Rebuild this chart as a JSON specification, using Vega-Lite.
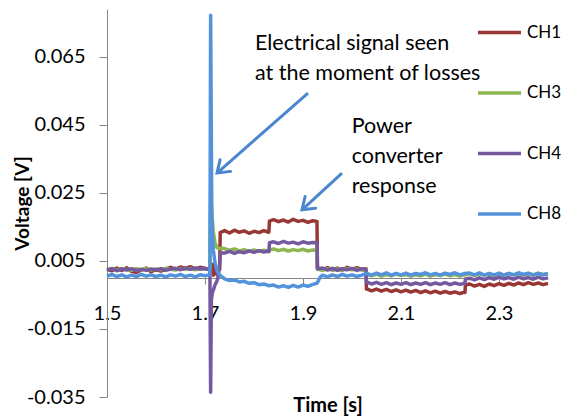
{
  "$schema": "https://vega.github.io/schema/vega-lite/v6.json",
  "autosize": {"type": "none"},
  "padding": {"left": 107, "top": 9, "right": 14, "bottom": 19},
  "width": 441,
  "height": 388,
  "background": "white",
  "config": {
    "view": {"stroke": null},
    "font": "Lato",
    "legend": {
      "orient": "none", "legendX": 369, "legendY": 0, "padding": 0,
      "symbolType": "stroke", "symbolSize": 1849, "symbolStrokeWidth": 3.5,
      "labelFont": "Lato", "labelFontSize": 17, "labelColor": "#000000",
      "rowPadding": 28.5, "labelOffset": 4, "labelLimit": 60
    }
  },
  "layer": [
    {
      "data": {"values": [
        {"x":1.50,"CH1":0.0026,"CH3":0.0024,"CH4":0.0022,"CH8":0.0005},
        {"x":1.51,"CH1":0.0021,"CH3":0.0028,"CH4":0.0027,"CH8":0.0010},
        {"x":1.52,"CH1":0.0029,"CH3":0.0023,"CH4":0.0021,"CH8":0.0004},
        {"x":1.53,"CH1":0.0022,"CH3":0.0027,"CH4":0.0026,"CH8":0.0009},
        {"x":1.54,"CH1":0.0030,"CH3":0.0025,"CH4":0.0023,"CH8":0.0003},
        {"x":1.55,"CH1":0.0019,"CH3":0.0022,"CH4":0.0027,"CH8":0.0008},
        {"x":1.56,"CH1":0.0016,"CH3":0.0027,"CH4":0.0021,"CH8":0.0004},
        {"x":1.57,"CH1":0.0023,"CH3":0.0024,"CH4":0.0025,"CH8":0.0010},
        {"x":1.58,"CH1":0.0029,"CH3":0.0028,"CH4":0.0022,"CH8":0.0005},
        {"x":1.59,"CH1":0.0018,"CH3":0.0023,"CH4":0.0026,"CH8":0.0009},
        {"x":1.60,"CH1":0.0024,"CH3":0.0026,"CH4":0.0023,"CH8":0.0004},
        {"x":1.61,"CH1":0.0020,"CH3":0.0024,"CH4":0.0027,"CH8":0.0008},
        {"x":1.62,"CH1":0.0026,"CH3":0.0028,"CH4":0.0022,"CH8":0.0003},
        {"x":1.63,"CH1":0.0031,"CH3":0.0025,"CH4":0.0026,"CH8":0.0009},
        {"x":1.64,"CH1":0.0025,"CH3":0.0023,"CH4":0.0028,"CH8":0.0005},
        {"x":1.65,"CH1":0.0032,"CH3":0.0027,"CH4":0.0024,"CH8":0.0010},
        {"x":1.66,"CH1":0.0027,"CH3":0.0025,"CH4":0.0029,"CH8":0.0004},
        {"x":1.67,"CH1":0.0033,"CH3":0.0028,"CH4":0.0025,"CH8":0.0008},
        {"x":1.68,"CH1":0.0026,"CH3":0.0024,"CH4":0.0029,"CH8":0.0003},
        {"x":1.69,"CH1":0.0031,"CH3":0.0027,"CH4":0.0026,"CH8":0.0009},
        {"x":1.70,"CH1":0.0028,"CH3":0.0025,"CH4":0.0028,"CH8":0.0006},
        {"x":1.705,"CH1":0.0026,"CH3":0.0026,"CH4":0.0025,"CH8":0.0008},
        {"x":1.710,"CH1":0.0030,"CH3":0.0027,"CH4":0.0024,"CH8":0.0009},
        {"x":1.7115,"CH1":0.0036,"CH3":0.0250,"CH4":-0.0336,"CH8":0.0772},
        {"x":1.7130,"CH1":0.0039,"CH3":0.0215,"CH4":-0.0065,"CH8":null},
        {"x":1.7140,"CH1":null,"CH3":0.0190,"CH4":null,"CH8":0.0160},
        {"x":1.7150,"CH1":0.0040,"CH3":null,"CH4":-0.0042,"CH8":0.0125},
        {"x":1.7170,"CH1":0.0008,"CH3":0.0135,"CH4":-0.0036,"CH8":0.0082},
        {"x":1.7205,"CH1":0.0035,"CH3":0.0102,"CH4":-0.0020,"CH8":0.0044},
        {"x":1.7240,"CH1":0.0010,"CH3":0.0090,"CH4":-0.0011,"CH8":0.0023},
        {"x":1.7270,"CH1":0.0022,"CH3":0.0087,"CH4":0.0004,"CH8":0.0014},
        {"x":1.7300,"CH1":0.0025,"CH3":0.0086,"CH4":0.0042,"CH8":0.0009},
        {"x":1.7310,"CH1":0.0133,"CH3":0.0087,"CH4":0.0073,"CH8":0.0007},
        {"x":1.74,"CH1":0.0139,"CH3":0.0086,"CH4":0.0073,"CH8":-0.0003},
        {"x":1.75,"CH1":0.0132,"CH3":0.0081,"CH4":0.0078,"CH8":-0.0008},
        {"x":1.76,"CH1":0.0140,"CH3":0.0085,"CH4":0.0072,"CH8":-0.0006},
        {"x":1.77,"CH1":0.0134,"CH3":0.0079,"CH4":0.0077,"CH8":-0.0012},
        {"x":1.78,"CH1":0.0138,"CH3":0.0083,"CH4":0.0074,"CH8":-0.0010},
        {"x":1.79,"CH1":0.0131,"CH3":0.0078,"CH4":0.0079,"CH8":-0.0016},
        {"x":1.80,"CH1":0.0137,"CH3":0.0082,"CH4":0.0075,"CH8":-0.0014},
        {"x":1.81,"CH1":0.0133,"CH3":0.0077,"CH4":0.0080,"CH8":-0.0020},
        {"x":1.82,"CH1":0.0139,"CH3":0.0081,"CH4":0.0076,"CH8":-0.0018},
        {"x":1.83,"CH1":0.0134,"CH3":0.0079,"CH4":0.0079,"CH8":-0.0023},
        {"x":1.8305,"CH1":0.0136,"CH3":0.0080,"CH4":0.0077,"CH8":null},
        {"x":1.8315,"CH1":0.0167,"CH3":0.0082,"CH4":0.0103,"CH8":null},
        {"x":1.84,"CH1":0.0171,"CH3":0.0085,"CH4":0.0106,"CH8":-0.0021},
        {"x":1.85,"CH1":0.0165,"CH3":0.0080,"CH4":0.0101,"CH8":-0.0027},
        {"x":1.86,"CH1":0.0170,"CH3":0.0084,"CH4":0.0107,"CH8":-0.0023},
        {"x":1.87,"CH1":0.0164,"CH3":0.0079,"CH4":0.0102,"CH8":-0.0028},
        {"x":1.88,"CH1":0.0172,"CH3":0.0083,"CH4":0.0105,"CH8":-0.0022},
        {"x":1.89,"CH1":0.0166,"CH3":0.0080,"CH4":0.0100,"CH8":-0.0027},
        {"x":1.90,"CH1":0.0169,"CH3":0.0084,"CH4":0.0106,"CH8":-0.0021},
        {"x":1.91,"CH1":0.0163,"CH3":0.0079,"CH4":0.0102,"CH8":-0.0025},
        {"x":1.92,"CH1":0.0168,"CH3":0.0082,"CH4":0.0104,"CH8":-0.0019},
        {"x":1.9285,"CH1":0.0166,"CH3":0.0081,"CH4":0.0103,"CH8":-0.0016},
        {"x":1.9295,"CH1":0.0028,"CH3":0.0025,"CH4":0.0027,"CH8":null},
        {"x":1.935,"CH1":null,"CH3":null,"CH4":null,"CH8":0.0002},
        {"x":1.94,"CH1":0.0024,"CH3":0.0022,"CH4":0.0029,"CH8":0.0008},
        {"x":1.95,"CH1":0.0030,"CH3":0.0027,"CH4":0.0023,"CH8":0.0003},
        {"x":1.96,"CH1":0.0023,"CH3":0.0023,"CH4":0.0028,"CH8":0.0009},
        {"x":1.97,"CH1":0.0029,"CH3":0.0026,"CH4":0.0022,"CH8":0.0004},
        {"x":1.98,"CH1":0.0022,"CH3":0.0022,"CH4":0.0027,"CH8":0.0010},
        {"x":1.99,"CH1":0.0031,"CH3":0.0027,"CH4":0.0024,"CH8":0.0005},
        {"x":2.00,"CH1":0.0025,"CH3":0.0024,"CH4":0.0028,"CH8":0.0009},
        {"x":2.01,"CH1":0.0030,"CH3":0.0026,"CH4":0.0022,"CH8":0.0004},
        {"x":2.02,"CH1":0.0024,"CH3":0.0023,"CH4":0.0027,"CH8":0.0008},
        {"x":2.0285,"CH1":0.0027,"CH3":0.0025,"CH4":0.0025,"CH8":null},
        {"x":2.0295,"CH1":-0.0033,"CH3":0.0008,"CH4":-0.0014,"CH8":null},
        {"x":2.03,"CH1":-0.0032,"CH3":0.0010,"CH4":-0.0012,"CH8":0.0013},
        {"x":2.04,"CH1":-0.0038,"CH3":0.0006,"CH4":-0.0018,"CH8":0.0008},
        {"x":2.05,"CH1":-0.0033,"CH3":0.0011,"CH4":-0.0013,"CH8":0.0014},
        {"x":2.06,"CH1":-0.0039,"CH3":0.0005,"CH4":-0.0019,"CH8":0.0009},
        {"x":2.07,"CH1":-0.0034,"CH3":0.0010,"CH4":-0.0014,"CH8":0.0015},
        {"x":2.08,"CH1":-0.0040,"CH3":0.0006,"CH4":-0.0020,"CH8":0.0008},
        {"x":2.09,"CH1":-0.0035,"CH3":0.0011,"CH4":-0.0015,"CH8":0.0013},
        {"x":2.10,"CH1":-0.0041,"CH3":0.0007,"CH4":-0.0019,"CH8":0.0009},
        {"x":2.11,"CH1":-0.0036,"CH3":0.0010,"CH4":-0.0014,"CH8":0.0014},
        {"x":2.12,"CH1":-0.0042,"CH3":0.0005,"CH4":-0.0020,"CH8":0.0008},
        {"x":2.13,"CH1":-0.0037,"CH3":0.0009,"CH4":-0.0015,"CH8":0.0013},
        {"x":2.14,"CH1":-0.0043,"CH3":0.0006,"CH4":-0.0019,"CH8":0.0010},
        {"x":2.15,"CH1":-0.0038,"CH3":0.0011,"CH4":-0.0014,"CH8":0.0015},
        {"x":2.16,"CH1":-0.0044,"CH3":0.0005,"CH4":-0.0020,"CH8":0.0009},
        {"x":2.17,"CH1":-0.0039,"CH3":0.0010,"CH4":-0.0015,"CH8":0.0013},
        {"x":2.18,"CH1":-0.0045,"CH3":0.0007,"CH4":-0.0019,"CH8":0.0008},
        {"x":2.19,"CH1":-0.0040,"CH3":0.0011,"CH4":-0.0014,"CH8":0.0014},
        {"x":2.20,"CH1":-0.0045,"CH3":0.0006,"CH4":-0.0020,"CH8":0.0010},
        {"x":2.21,"CH1":-0.0041,"CH3":0.0010,"CH4":-0.0015,"CH8":0.0015},
        {"x":2.22,"CH1":-0.0046,"CH3":0.0005,"CH4":-0.0019,"CH8":0.0009},
        {"x":2.23,"CH1":-0.0042,"CH3":0.0009,"CH4":-0.0016,"CH8":0.0013},
        {"x":2.2305,"CH1":-0.0043,"CH3":null,"CH4":-0.0017,"CH8":null},
        {"x":2.2315,"CH1":-0.0021,"CH3":null,"CH4":-0.0003,"CH8":null},
        {"x":2.24,"CH1":-0.0018,"CH3":0.0012,"CH4":-0.0001,"CH8":0.0014},
        {"x":2.25,"CH1":-0.0024,"CH3":0.0007,"CH4":-0.0006,"CH8":0.0009},
        {"x":2.26,"CH1":-0.0019,"CH3":0.0012,"CH4":0.0000,"CH8":0.0015},
        {"x":2.27,"CH1":-0.0025,"CH3":0.0008,"CH4":-0.0005,"CH8":0.0008},
        {"x":2.28,"CH1":-0.0018,"CH3":0.0011,"CH4":0.0001,"CH8":0.0013},
        {"x":2.29,"CH1":-0.0023,"CH3":0.0007,"CH4":-0.0004,"CH8":0.0009},
        {"x":2.30,"CH1":-0.0017,"CH3":0.0012,"CH4":0.0002,"CH8":0.0014},
        {"x":2.31,"CH1":-0.0022,"CH3":0.0008,"CH4":-0.0003,"CH8":0.0008},
        {"x":2.32,"CH1":-0.0016,"CH3":0.0013,"CH4":0.0001,"CH8":0.0013},
        {"x":2.33,"CH1":-0.0021,"CH3":0.0009,"CH4":-0.0004,"CH8":0.0009},
        {"x":2.34,"CH1":-0.0015,"CH3":0.0013,"CH4":0.0002,"CH8":0.0015},
        {"x":2.35,"CH1":-0.0020,"CH3":0.0008,"CH4":-0.0003,"CH8":0.0010},
        {"x":2.36,"CH1":-0.0014,"CH3":0.0012,"CH4":0.0001,"CH8":0.0014},
        {"x":2.37,"CH1":-0.0019,"CH3":0.0009,"CH4":-0.0004,"CH8":0.0008},
        {"x":2.38,"CH1":-0.0015,"CH3":0.0014,"CH4":0.0002,"CH8":0.0013},
        {"x":2.39,"CH1":-0.0020,"CH3":0.0010,"CH4":-0.0003,"CH8":0.0009},
        {"x":2.40,"CH1":-0.0016,"CH3":0.0012,"CH4":0.0000,"CH8":0.0012}
      ]},
      "transform": [
        {"fold": ["CH1", "CH3", "CH4", "CH8"], "as": ["series", "y"]},
        {"filter": "datum.y != null"}
      ],
      "mark": {"type": "line", "strokeWidth": 3.5, "strokeJoin": "round", "clip": false},
      "encoding": {
        "x": {
          "field": "x", "type": "quantitative", "title": "Time [s]",
          "scale": {"domain": [1.5, 2.4], "nice": false, "zero": false},
          "axis": {
            "values": [1.5, 1.7, 1.9, 2.1, 2.3], "format": ".1f",
            "offset": -119, "grid": false, "labelFlush": false,
            "domainColor": "#868686", "tickColor": "#868686", "tickSize": 6,
            "labelFont": "Lato", "labelFontSize": 20, "labelColor": "#000000", "labelPadding": 19,
            "titleFont": "Lato", "titleFontSize": 20, "titleFontWeight": "bold", "titleColor": "#000000",
            "titleX": 220.5, "titleY": 133.5, "titleBaseline": "alphabetic", "titleAlign": "center"
          }
        },
        "y": {
          "field": "y", "type": "quantitative", "title": "Voltage [V]",
          "scale": {"domain": [-0.035, 0.079], "nice": false, "zero": false},
          "axis": {
            "values": [-0.035, -0.015, 0.005, 0.025, 0.045, 0.065],
            "labelExpr": "replace(format(datum.value, '.3f'), '\u2212', '-')",
            "grid": false, "labelFlush": false,
            "domainColor": "#868686", "tickColor": "#868686", "tickSize": 8,
            "labelFont": "Lato", "labelFontSize": 20, "labelColor": "#000000", "labelPadding": 14,
            "titleFont": "Lato", "titleFontSize": 19, "titleFontWeight": "bold", "titleColor": "#000000",
            "titleX": -79, "titleY": 194, "titleAngle": 270, "titleBaseline": "alphabetic", "titleAlign": "center"
          }
        },
        "color": {
          "field": "series", "type": "nominal",
          "scale": {"domain": ["CH1", "CH3", "CH4", "CH8"], "range": ["#993735", "#8DB550", "#7459A1", "#5393DC"]},
          "legend": {"title": null}
        }
      }
    },
    {
      "data": {"values": [
        {"x": 1.9102, "y": 0.0543, "x2": 1.7245, "y2": 0.0308},
        {"x": 1.9796, "y": 0.0308, "x2": 1.8980, "y2": 0.0200}
      ]},
      "mark": {"type": "rule", "color": "#4A86D0", "strokeWidth": 3},
      "encoding": {
        "x": {"field": "x", "type": "quantitative", "title": "Time [s]"},
        "y": {"field": "y", "type": "quantitative", "title": "Voltage [V]"},
        "x2": {"field": "x2"},
        "y2": {"field": "y2"}
      }
    },
    {
      "data": {"values": [
        {"x": 1.7245, "y": 0.0308},
        {"x": 1.8980, "y": 0.0200}
      ]},
      "mark": {"type": "point", "shape": "M-0.7,1L0,0L0.7,1", "filled": false, "color": "#4A86D0", "strokeWidth": 3, "size": 500, "angle": 228, "opacity": 1, "strokeCap": "round"},
      "encoding": {
        "x": {"field": "x", "type": "quantitative", "title": "Time [s]"},
        "y": {"field": "y", "type": "quantitative", "title": "Voltage [V]"}
      }
    },
    {
      "data": {"values": [
        {"x": 1.802, "y": 0.0670, "t": "Electrical signal seen"},
        {"x": 1.802, "y": 0.0581, "t": "at the moment of losses"},
        {"x": 1.9993, "y": 0.0425, "t": "Power"},
        {"x": 1.9993, "y": 0.0337, "t": "converter"},
        {"x": 1.9993, "y": 0.0249, "t": "response"}
      ]},
      "mark": {"type": "text", "align": "left", "baseline": "alphabetic", "font": "Lato", "fontSize": 21.5, "color": "#000000"},
      "encoding": {
        "x": {"field": "x", "type": "quantitative", "title": "Time [s]"},
        "y": {"field": "y", "type": "quantitative", "title": "Voltage [V]"},
        "text": {"field": "t"}
      }
    }
  ]
}
